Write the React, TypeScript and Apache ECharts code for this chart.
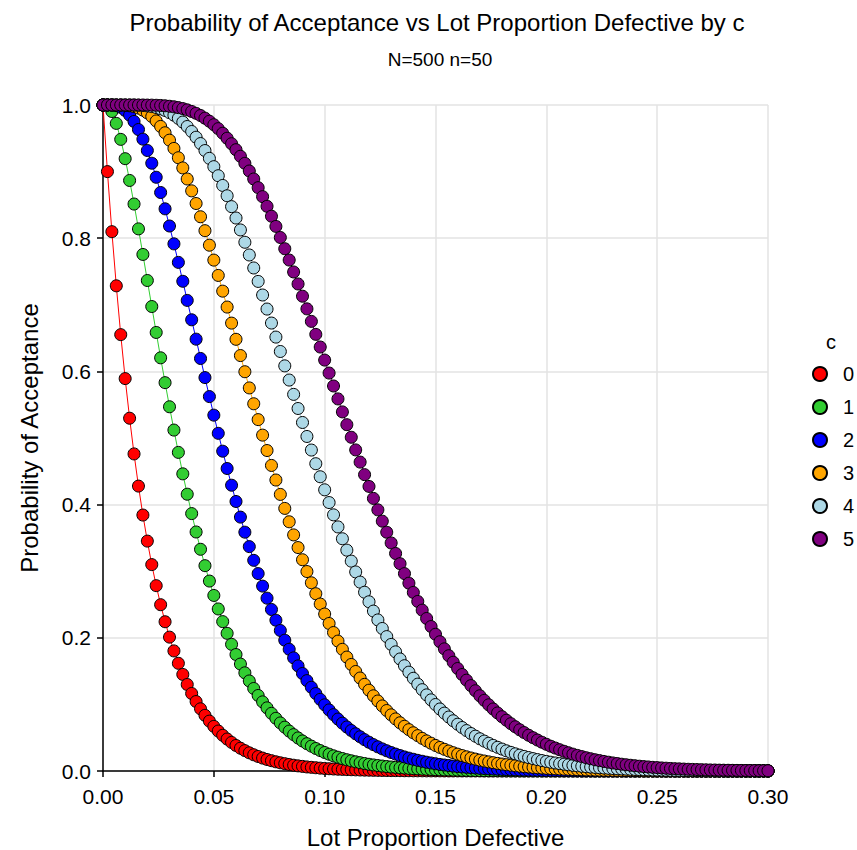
import React, { useEffect, useRef } from "react";
import * as echarts from "echarts";

const lotProportion = [
  0, 0.002, 0.004, 0.006, 0.008, 0.01, 0.012, 0.014, 0.016, 0.018,
  0.02, 0.022, 0.024, 0.026, 0.028, 0.03, 0.032, 0.034, 0.036, 0.038,
  0.04, 0.042, 0.044, 0.046, 0.048, 0.05, 0.052, 0.054, 0.056, 0.058,
  0.06, 0.062, 0.064, 0.066, 0.068, 0.07, 0.072, 0.074, 0.076, 0.078,
  0.08, 0.082, 0.084, 0.086, 0.088, 0.09, 0.092, 0.094, 0.096, 0.098,
  0.1, 0.102, 0.104, 0.106, 0.108, 0.11, 0.112, 0.114, 0.116, 0.118,
  0.12, 0.122, 0.124, 0.126, 0.128, 0.13, 0.132, 0.134, 0.136, 0.138,
  0.14, 0.142, 0.144, 0.146, 0.148, 0.15, 0.152, 0.154, 0.156, 0.158,
  0.16, 0.162, 0.164, 0.166, 0.168, 0.17, 0.172, 0.174, 0.176, 0.178,
  0.18, 0.182, 0.184, 0.186, 0.188, 0.19, 0.192, 0.194, 0.196, 0.198,
  0.2, 0.202, 0.204, 0.206, 0.208, 0.21, 0.212, 0.214, 0.216, 0.218,
  0.22, 0.222, 0.224, 0.226, 0.228, 0.23, 0.232, 0.234, 0.236, 0.238,
  0.24, 0.242, 0.244, 0.246, 0.248, 0.25, 0.252, 0.254, 0.256, 0.258,
  0.26, 0.262, 0.264, 0.266, 0.268, 0.27, 0.272, 0.274, 0.276, 0.278,
  0.28, 0.282, 0.284, 0.286, 0.288, 0.29, 0.292, 0.294, 0.296, 0.298,
  0.3,
];

const pa_c0 = [
  1, 0.9, 0.8098, 0.7285, 0.6552, 0.5892, 0.5297, 0.4761, 0.4278, 0.3843,
  0.3452, 0.3099, 0.2783, 0.2497, 0.2241, 0.201, 0.1803, 0.1617, 0.145, 0.1299,
  0.1164, 0.1043, 0.0934, 0.0836, 0.0749, 0.067, 0.06, 0.0536, 0.048, 0.0429,
  0.0383, 0.0342, 0.0306, 0.0273, 0.0244, 0.0218, 0.0194, 0.0173, 0.0155, 0.0138,
  0.0123, 0.011, 0.0098, 0.0087, 0.0077, 0.0069, 0.0061, 0.0055, 0.0049, 0.0043,
  0.0038, 0.0034, 0.003, 0.0027, 0.0024, 0.0021, 0.0019, 0.0017, 0.0015, 0.0013,
  0.0012, 0.001, 0.0009, 0.0008, 0.0007, 0.0006, 0.0006, 0.0005, 0.0004, 0.0004,
  0.0003, 0.0003, 0.0003, 0.0002, 0.0002, 0.0002, 0.0002, 0.0001, 0.0001, 0.0001,
  0.0001, 0.0001, 0.0001, 0.0001, 0.0001, 0.0001, 0, 0, 0, 0,
  0, 0, 0, 0, 0, 0, 0, 0, 0, 0,
  0, 0, 0, 0, 0, 0, 0, 0, 0, 0,
  0, 0, 0, 0, 0, 0, 0, 0, 0, 0,
  0, 0, 0, 0, 0, 0, 0, 0, 0, 0,
  0, 0, 0, 0, 0, 0, 0, 0, 0, 0,
  0, 0, 0, 0, 0, 0, 0, 0, 0, 0,
  0,
];

const pa_c1 = [
  1, 1, 0.9902, 0.9724, 0.9484, 0.9194, 0.8867, 0.8513, 0.814, 0.7756,
  0.7365, 0.6974, 0.6585, 0.6204, 0.5831, 0.5469, 0.5119, 0.4784, 0.4462, 0.4156,
  0.3865, 0.3589, 0.3329, 0.3083, 0.2852, 0.2636, 0.2433, 0.2243, 0.2067, 0.1902,
  0.1749, 0.1606, 0.1474, 0.1352, 0.1239, 0.1134, 0.1038, 0.0948, 0.0866, 0.0791,
  0.0722, 0.0658, 0.0599, 0.0546, 0.0496, 0.0451, 0.041, 0.0373, 0.0338, 0.0307,
  0.0278, 0.0252, 0.0228, 0.0207, 0.0187, 0.0169, 0.0153, 0.0138, 0.0125, 0.0112,
  0.0101, 0.0091, 0.0082, 0.0074, 0.0067, 0.006, 0.0054, 0.0049, 0.0044, 0.0039,
  0.0035, 0.0032, 0.0028, 0.0025, 0.0023, 0.002, 0.0018, 0.0016, 0.0015, 0.0013,
  0.0012, 0.001, 0.0009, 0.0008, 0.0007, 0.0007, 0.0006, 0.0005, 0.0005, 0.0004,
  0.0004, 0.0003, 0.0003, 0.0003, 0.0002, 0.0002, 0.0002, 0.0002, 0.0001, 0.0001,
  0.0001, 0.0001, 0.0001, 0.0001, 0.0001, 0.0001, 0.0001, 0, 0, 0,
  0, 0, 0, 0, 0, 0, 0, 0, 0, 0,
  0, 0, 0, 0, 0, 0, 0, 0, 0, 0,
  0, 0, 0, 0, 0, 0, 0, 0, 0, 0,
  0, 0, 0, 0, 0, 0, 0, 0, 0, 0,
  0,
];

const pa_c2 = [
  1, 1, 1, 0.999, 0.9965, 0.9918, 0.9848, 0.9753, 0.9632, 0.9487,
  0.9317, 0.9126, 0.8915, 0.8686, 0.8441, 0.8183, 0.7915, 0.7637, 0.7353, 0.7066,
  0.6775, 0.6484, 0.6194, 0.5907, 0.5622, 0.5343, 0.507, 0.4802, 0.4542, 0.4291,
  0.4047, 0.3812, 0.3586, 0.3369, 0.3163, 0.2964, 0.2776, 0.2595, 0.2425, 0.2264,
  0.211, 0.1964, 0.1828, 0.1699, 0.1578, 0.1464, 0.1357, 0.1257, 0.1163, 0.1076,
  0.0994, 0.0917, 0.0846, 0.078, 0.0718, 0.0661, 0.0608, 0.0559, 0.0514, 0.0471,
  0.0432, 0.0396, 0.0363, 0.0332, 0.0304, 0.0278, 0.0254, 0.0232, 0.0211, 0.0193,
  0.0176, 0.016, 0.0146, 0.0132, 0.012, 0.0109, 0.0099, 0.009, 0.0082, 0.0074,
  0.0067, 0.0061, 0.0055, 0.005, 0.0045, 0.004, 0.0037, 0.0033, 0.003, 0.0027,
  0.0024, 0.0022, 0.002, 0.0018, 0.0016, 0.0014, 0.0013, 0.0012, 0.001, 0.0009,
  0.0008, 0.0008, 0.0007, 0.0006, 0.0005, 0.0005, 0.0004, 0.0004, 0.0003, 0.0003,
  0.0003, 0.0002, 0.0002, 0.0002, 0.0002, 0.0001, 0.0001, 0.0001, 0.0001, 0.0001,
  0.0001, 0.0001, 0.0001, 0.0001, 0.0001, 0, 0, 0, 0, 0,
  0, 0, 0, 0, 0, 0, 0, 0, 0, 0,
  0, 0, 0, 0, 0, 0, 0, 0, 0, 0,
  0,
];

const pa_c3 = [
  1, 1, 1, 1, 0.9999, 0.9996, 0.9988, 0.9975, 0.9954, 0.9923,
  0.9881, 0.9827, 0.976, 0.9678, 0.9583, 0.9472, 0.9348, 0.9208, 0.9055, 0.8889,
  0.8711, 0.8521, 0.8322, 0.8113, 0.7895, 0.7671, 0.7441, 0.7205, 0.6966, 0.6725,
  0.6482, 0.6238, 0.5995, 0.5752, 0.5514, 0.5276, 0.5043, 0.4812, 0.4588, 0.4369,
  0.4153, 0.3943, 0.3742, 0.3545, 0.3355, 0.3172, 0.2995, 0.2826, 0.2662, 0.2507,
  0.2357, 0.2215, 0.2079, 0.195, 0.1827, 0.171, 0.16, 0.1494, 0.1396, 0.1301,
  0.1213, 0.1129, 0.1051, 0.0977, 0.0908, 0.0843, 0.0782, 0.0724, 0.0671, 0.0621,
  0.0574, 0.0531, 0.049, 0.0452, 0.0417, 0.0384, 0.0354, 0.0326, 0.03, 0.0275,
  0.0253, 0.0232, 0.0213, 0.0195, 0.0179, 0.0163, 0.015, 0.0137, 0.0125, 0.0114,
  0.0104, 0.0095, 0.0087, 0.0079, 0.0072, 0.0065, 0.006, 0.0054, 0.0049, 0.0045,
  0.004, 0.0037, 0.0033, 0.003, 0.0027, 0.0025, 0.0022, 0.002, 0.0018, 0.0016,
  0.0015, 0.0013, 0.0012, 0.0011, 0.001, 0.0009, 0.0008, 0.0007, 0.0006, 0.0006,
  0.0005, 0.0005, 0.0004, 0.0004, 0.0003, 0.0003, 0.0003, 0.0002, 0.0002, 0.0002,
  0.0002, 0.0002, 0.0001, 0.0001, 0.0001, 0.0001, 0.0001, 0.0001, 0.0001, 0.0001,
  0.0001, 0, 0, 0, 0, 0, 0, 0, 0, 0,
  0,
];

const pa_c4 = [
  1, 1, 1, 1, 1, 1, 1, 0.9999, 0.9996, 0.9993,
  0.9986, 0.9976, 0.9962, 0.9943, 0.9918, 0.9886, 0.9847, 0.9799, 0.9743, 0.9677,
  0.9602, 0.9516, 0.9421, 0.9316, 0.9199, 0.9074, 0.8938, 0.8792, 0.8637, 0.8474,
  0.8303, 0.8124, 0.7939, 0.7748, 0.7553, 0.7351, 0.7147, 0.6936, 0.6726, 0.6515,
  0.6299, 0.6083, 0.587, 0.5655, 0.5443, 0.5233, 0.5023, 0.4819, 0.4614, 0.4418,
  0.4222, 0.4031, 0.3846, 0.3665, 0.3487, 0.3316, 0.3151, 0.2989, 0.2836, 0.2684,
  0.2541, 0.2401, 0.2268, 0.214, 0.2018, 0.1901, 0.1789, 0.1682, 0.1581, 0.1484,
  0.1392, 0.1304, 0.1221, 0.1143, 0.1068, 0.0998, 0.0931, 0.0869, 0.081, 0.0754,
  0.0702, 0.0653, 0.0607, 0.0563, 0.0523, 0.0484, 0.0449, 0.0416, 0.0385, 0.0356,
  0.0329, 0.0303, 0.028, 0.0258, 0.0238, 0.0219, 0.0202, 0.0186, 0.0171, 0.0157,
  0.0144, 0.0132, 0.0121, 0.0111, 0.0102, 0.0093, 0.0085, 0.0078, 0.0071, 0.0065,
  0.0059, 0.0054, 0.0049, 0.0045, 0.0041, 0.0037, 0.0034, 0.0031, 0.0028, 0.0025,
  0.0023, 0.0021, 0.0019, 0.0017, 0.0015, 0.0014, 0.0013, 0.0011, 0.001, 0.0009,
  0.0008, 0.0007, 0.0007, 0.0006, 0.0005, 0.0005, 0.0004, 0.0004, 0.0004, 0.0003,
  0.0003, 0.0003, 0.0002, 0.0002, 0.0002, 0.0002, 0.0001, 0.0001, 0.0001, 0.0001,
  0.0001,
];

const pa_c5 = [
  1, 1, 1, 1, 1, 1, 1, 1, 1, 1,
  0.9999, 0.9998, 0.9996, 0.9993, 0.9988, 0.9981, 0.9973, 0.9961, 0.9946, 0.9927,
  0.9903, 0.9875, 0.9842, 0.9802, 0.9756, 0.9704, 0.9645, 0.9576, 0.9501, 0.9419,
  0.9329, 0.923, 0.9124, 0.9009, 0.8889, 0.8759, 0.8624, 0.8479, 0.833, 0.8177,
  0.8011, 0.7842, 0.7672, 0.7493, 0.7313, 0.7129, 0.6939, 0.6751, 0.6556, 0.6366,
  0.617, 0.5975, 0.5781, 0.5587, 0.5392, 0.52, 0.5011, 0.4821, 0.4638, 0.445,
  0.4273, 0.4093, 0.3921, 0.3751, 0.3585, 0.3424, 0.3266, 0.3113, 0.2964, 0.282,
  0.2681, 0.2546, 0.2415, 0.229, 0.2169, 0.2053, 0.1941, 0.1834, 0.1731, 0.1633,
  0.1539, 0.1449, 0.1364, 0.1282, 0.1205, 0.113, 0.1061, 0.0994, 0.0931, 0.0872,
  0.0815, 0.0762, 0.0711, 0.0664, 0.0619, 0.0577, 0.0537, 0.05, 0.0465, 0.0432,
  0.0401, 0.0372, 0.0345, 0.032, 0.0296, 0.0274, 0.0253, 0.0234, 0.0216, 0.0199,
  0.0184, 0.0169, 0.0156, 0.0144, 0.0132, 0.0121, 0.0112, 0.0102, 0.0094, 0.0086,
  0.0079, 0.0072, 0.0066, 0.0061, 0.0055, 0.0051, 0.0046, 0.0042, 0.0038, 0.0035,
  0.0032, 0.0029, 0.0026, 0.0024, 0.0022, 0.002, 0.0018, 0.0016, 0.0015, 0.0013,
  0.0012, 0.0011, 0.001, 0.0009, 0.0008, 0.0007, 0.0007, 0.0006, 0.0005, 0.0005,
  0.0004,
];

const cLabels = ["0", "1", "2", "3", "4", "5"];
const cColors = ["#FF0000", "#32CD32", "#0000FF", "#FFA500", "#ADD8E6", "#800080"];
const seriesValues = [pa_c0, pa_c1, pa_c2, pa_c3, pa_c4, pa_c5];

const FONT = "'Liberation Sans', Arial, Helvetica, sans-serif";

export default function App() {
  const ref = useRef<HTMLDivElement>(null);

  useEffect(() => {
    if (!ref.current) return;
    const chart = echarts.init(ref.current, undefined, { renderer: "svg" });

    const series = seriesValues.map((vals, si) => ({
      name: cLabels[si],
      type: "line",
      data: lotProportion.map((x, i) => [x, vals[i]]),
      symbol: "circle",
      symbolSize: 12,
      showAllSymbol: true,
      itemStyle: { color: cColors[si], borderColor: "#000", borderWidth: 1 },
      lineStyle: { color: cColors[si], width: 1 },
      emphasis: { disabled: true },
      z: 2 + si,
    }));

    chart.setOption({
      animation: false,
      textStyle: { fontFamily: FONT },
      title: [
        {
          text: "Probability of Acceptance vs Lot Proportion Defective by c",
          left: 432,
          top: 5,
          textAlign: "center",
          textStyle: { fontFamily: FONT, fontSize: 24, fontWeight: "normal", color: "#000" },
        },
        {
          text: "N=500 n=50",
          left: 435,
          top: 45,
          textAlign: "center",
          textStyle: { fontFamily: FONT, fontSize: 19, fontWeight: "normal", color: "#000" },
        },
      ],
      legend: {
        data: cLabels,
        orient: "vertical",
        left: 807,
        top: 359,
        itemWidth: 14,
        itemHeight: 14,
        itemGap: 13,
        icon: "circle",
        textStyle: { fontFamily: FONT, fontSize: 20, color: "#000", padding: [0, 0, 0, 11] },
        selectedMode: false,
      },
      graphic: [
        {
          type: "text",
          left: 826,
          top: 332,
          style: { text: "c", fontFamily: FONT, fontSize: 20, fill: "#000" },
        },
      ],
      grid: {
        left: 103,
        right: 89,
        top: 105,
        bottom: 79,
        containLabel: false,
        outerBoundsMode: "none",
      },
      xAxis: {
        type: "value",
        min: 0,
        max: 0.3,
        interval: 0.05,
        name: "Lot Proportion Defective",
        nameLocation: "middle",
        nameGap: 54,
        nameTextStyle: { fontFamily: FONT, fontSize: 24, color: "#000" },
        axisLine: { onZero: false, lineStyle: { color: "#000", width: 1.5 } },
        axisTick: { show: true, inside: false, length: 6, lineStyle: { color: "#000", width: 1.5 } },
        axisLabel: {
          fontFamily: FONT,
          fontSize: 21,
          color: "#000",
          margin: 15,
          formatter: (v: number) => v.toFixed(2),
        },
        splitLine: { show: true, lineStyle: { color: "#e3e3e3", width: 1.5 } },
      },
      yAxis: {
        type: "value",
        min: 0,
        max: 1,
        interval: 0.2,
        name: "Probability of Acceptance",
        nameLocation: "middle",
        nameGap: 62,
        nameTextStyle: { fontFamily: FONT, fontSize: 24, color: "#000" },
        axisLine: { show: true, onZero: false, lineStyle: { color: "#000", width: 1.5 } },
        axisTick: { show: true, inside: false, length: 6, lineStyle: { color: "#000", width: 1.5 } },
        axisLabel: {
          fontFamily: FONT,
          fontSize: 21,
          color: "#000",
          margin: 12,
          formatter: (v: number) => v.toFixed(1),
        },
        splitLine: { show: true, lineStyle: { color: "#e3e3e3", width: 1.5 } },
      },
      series,
    });

    return () => chart.dispose();
  }, []);

  return (
    <div
      ref={ref}
      style={{ position: "absolute", left: 0, top: 0, width: 857, height: 850 }}
    />
  );
}
